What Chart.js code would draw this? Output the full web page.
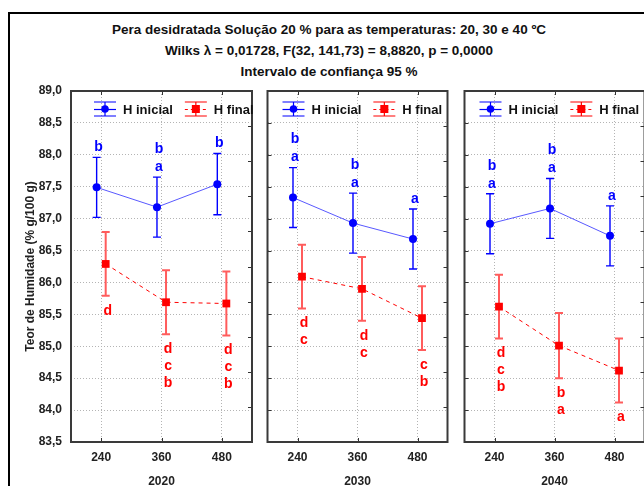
<!DOCTYPE html>
<html><head><meta charset="utf-8">
<script src="https://cdn.jsdelivr.net/npm/chart.js@4.4.0/dist/chart.umd.min.js"></script>
<style>
html,body{margin:0;padding:0;background:#fff;width:644px;height:486px;overflow:hidden;position:relative;}
#frame{position:absolute;left:8px;top:12px;width:700px;height:600px;border-left:2px solid #000;border-top:2px solid #000;}
.t{position:absolute;left:0;width:658px;text-align:center;font:bold 13.5px 'Liberation Sans',Arial,sans-serif;color:#111;white-space:nowrap;line-height:16px;}
canvas{position:absolute;top:0;}
</style></head><body>
<div id="frame"></div>
<div class="t" style="top:22px">Pera desidratada Solução 20 % para as temperaturas: 20, 30 e 40 ºC</div>
<div class="t" style="top:43px">Wilks λ = 0,01728, F(32, 141,73) = 8,8820, p = 0,0000</div>
<div class="t" style="top:64px">Intervalo de confiança 95 %</div>
<canvas id="c0" style="left:0px"></canvas>
<canvas id="c1" style="left:262px"></canvas>
<canvas id="c2" style="left:459px"></canvas>
<script>
// ---- data ----
const years = ['2020', '2030', '2040'];
const times = ['240', '360', '480'];
const seriesNames = ['H inicial', 'H final'];
const yTitle = 'Teor de Humidade (% g/100 g)';

const inicial2020 = [87.49, 87.18, 87.54];
const inicial2030 = [87.33, 86.93, 86.68];
const inicial2040 = [86.92, 87.16, 86.73];
const final2020 = [86.29, 85.69, 85.67];
const final2030 = [86.09, 85.90, 85.44];
const final2040 = [85.62, 85.01, 84.62];

const ciInicial2020 = [0.47, 0.47, 0.48];
const ciInicial2030 = [0.47, 0.47, 0.47];
const ciInicial2040 = [0.47, 0.47, 0.47];
const ciFinal2020 = [0.50, 0.50, 0.50];
const ciFinal2030 = [0.50, 0.50, 0.50];
const ciFinal2040 = [0.50, 0.51, 0.50];

// letters listed top to bottom
const lettersInicial2020 = ['b', 'ba', 'b'];
const lettersInicial2030 = ['ba', 'ba', 'a'];
const lettersInicial2040 = ['ba', 'ba', 'a'];
const lettersFinal2020 = ['d', 'dcb', 'dcb'];
const lettersFinal2030 = ['dc', 'dc', 'cb'];
const lettersFinal2040 = ['dcb', 'ba', 'a'];

const yMin = 83.5, yMax = 89.0, yStep = 0.5;

// ---- styling ----
const FONT = "'Liberation Sans', Arial, sans-serif";
Chart.defaults.font.family = FONT;
const BLUE = '#0000ff', RED = '#ff0000';
const panels = [
  {inicial: inicial2020, fin: final2020, ciI: ciInicial2020, ciF: ciFinal2020, lI: lettersInicial2020, lF: lettersFinal2020},
  {inicial: inicial2030, fin: final2030, ciI: ciInicial2030, ciF: ciFinal2030, lI: lettersInicial2030, lF: lettersFinal2030},
  {inicial: inicial2040, fin: final2040, ciI: ciInicial2040, ciF: ciFinal2040, lI: lettersInicial2040, lF: lettersFinal2040}
];
const canvasW = [264, 191, 191];
const padL = [0, 4, 4], padR = [12, 4, 4];
const legendOffset = [23, 15, 15];
const xShift = 0.075;

const panelPlugin = {
  id: 'panelPlugin',
  beforeDatasetsDraw(chart) {
    const ctx = chart.ctx, xs = chart.scales.x, ys = chart.scales.y;
    chart.data.datasets.forEach(ds => {
      ctx.save();
      ctx.strokeStyle = ds.errColor; ctx.lineWidth = ds.errWidth;
      ds.data.forEach((p, i) => {
        const x = xs.getPixelForValue(p.x);
        const y1 = ys.getPixelForValue(p.y + ds.ci[i]);
        const y2 = ys.getPixelForValue(p.y - ds.ci[i]);
        ctx.beginPath();
        ctx.moveTo(x, y1); ctx.lineTo(x, y2);
        ctx.moveTo(x - 4, y1); ctx.lineTo(x + 4, y1);
        ctx.moveTo(x - 4, y2); ctx.lineTo(x + 4, y2);
        ctx.stroke();
      });
      ctx.restore();
    });
  },
  afterDraw(chart) {
    const ctx = chart.ctx, a = chart.chartArea, xs = chart.scales.x, ys = chart.scales.y, y2 = chart.scales.y2;
    const p = chart.options.plugins.panelPlugin.index;
    ctx.save();
    // inward ticks
    ctx.strokeStyle = '#333'; ctx.lineWidth = 1;
    ctx.beginPath();
    for (let k = 1; k < 10; k++) {
      const y = Math.round(y2.getPixelForValue(k)) + 0.5;
      ctx.moveTo(a.right - 4, y); ctx.lineTo(a.right, y);
    }
    if (p > 0) {
      ys.ticks.forEach(t => {
        const y = Math.round(ys.getPixelForValue(t.value)) + 0.5;
        ctx.moveTo(a.left, y); ctx.lineTo(a.left + 4, y);
      });
    }
    xs.ticks.forEach(t => {
      const x = Math.round(xs.getPixelForValue(t.value)) + 0.5;
      ctx.moveTo(x, a.top); ctx.lineTo(x, a.top + 4);
      ctx.moveTo(x, a.bottom); ctx.lineTo(x, a.bottom - 4);
    });
    ctx.stroke();
    // frame
    ctx.strokeStyle = '#3a3a3a'; ctx.lineWidth = 2;
    ctx.strokeRect(a.left, a.top, a.right - a.left, a.bottom - a.top);
    // letters
    ctx.font = 'bold 14px ' + FONT;
    ctx.textAlign = 'center'; ctx.textBaseline = 'middle';
    chart.data.datasets.forEach(ds => {
      ctx.fillStyle = ds.errColor === BLUE ? BLUE : RED;
      ds.data.forEach((pt, i) => {
        const x = xs.getPixelForValue(pt.x) + 2;
        const letters = ds.letters[i].split('');
        if (ds.lettersAbove) {
          const top = ys.getPixelForValue(pt.y + ds.ci[i]);
          letters.forEach((L, j) => ctx.fillText(L, x, top - 10 - (letters.length - 1 - j) * 18));
        } else {
          const bot = ys.getPixelForValue(pt.y - ds.ci[i]);
          letters.forEach((L, j) => ctx.fillText(L, x, bot + 15 + j * 17));
        }
      });
    });
    // legend
    const ly = a.top + 18;
    let lx = a.left + legendOffset[p];
    chart.data.datasets.forEach((ds, di) => {
      const col = di === 0 ? BLUE : RED;
      ctx.strokeStyle = col; ctx.fillStyle = col;
      ctx.lineWidth = 1.2;
      ctx.setLineDash([]);
      ctx.beginPath();
      ctx.moveTo(lx, ly - 7); ctx.lineTo(lx + 22, ly - 7);
      ctx.moveTo(lx, ly + 7); ctx.lineTo(lx + 22, ly + 7);
      ctx.moveTo(lx + 11, ly - 7); ctx.lineTo(lx + 11, ly + 7);
      ctx.stroke();
      ctx.beginPath();
      if (di === 1) ctx.setLineDash([3, 3]);
      ctx.moveTo(lx, ly + 0.5); ctx.lineTo(lx + 22, ly + 0.5);
      ctx.stroke();
      ctx.setLineDash([]);
      if (di === 0) { ctx.beginPath(); ctx.arc(lx + 11, ly, 3.8, 0, Math.PI * 2); ctx.fill(); }
      else { ctx.fillRect(lx + 11 - 4, ly - 4, 8, 8); }
      ctx.fillStyle = '#111';
      ctx.font = 'bold 13px ' + FONT;
      ctx.textAlign = 'left';
      ctx.fillText(seriesNames[di], lx + 29, ly + 1);
      lx += 29 + ctx.measureText(seriesNames[di]).width + 12;
    });
    ctx.restore();
  }
};

panels.forEach((pd, p) => {
  const cv = document.getElementById('c' + p);
  cv.width = canvasW[p]; cv.height = 490;
  cv.style.width = canvasW[p] + 'px'; cv.style.height = '490px';
  new Chart(cv, {
    type: 'line',
    data: {
      datasets: [
        {
          label: seriesNames[0],
          data: pd.inicial.map((v, i) => ({x: i - xShift, y: v})),
          ci: pd.ciI, letters: pd.lI, lettersAbove: true,
          errColor: BLUE, errWidth: 1.4,
          borderColor: 'rgba(70,70,255,0.9)', borderWidth: 1,
          pointStyle: 'circle', pointRadius: 4, pointBackgroundColor: BLUE, pointBorderColor: BLUE, pointBorderWidth: 0
        },
        {
          label: seriesNames[1],
          data: pd.fin.map((v, i) => ({x: i + xShift, y: v})),
          ci: pd.ciF, letters: pd.lF, lettersAbove: false,
          errColor: '#ff5c5c', errWidth: 2,
          borderColor: RED, borderWidth: 1, borderDash: [4, 4],
          pointStyle: 'rect', pointRadius: 5.5, pointBackgroundColor: RED, pointBorderColor: RED, pointBorderWidth: 0
        }
      ]
    },
    options: {
      responsive: false, animation: false, devicePixelRatio: 1,
      layout: {padding: {top: 91, bottom: 0, left: padL[p], right: padR[p]}},
      plugins: {legend: {display: false}, tooltip: {enabled: false}, panelPlugin: {index: p}},
      elements: {line: {tension: 0}},
      scales: {
        x: {
          type: 'linear', min: -0.5, max: 2.5,
          afterBuildTicks: s => { s.ticks = times.map((_, i) => ({value: i})); },
          afterFit: s => { s.height = 48; },
          ticks: {callback: v => times[v], font: {weight: 'bold', size: 12}, color: '#222', padding: 8, maxRotation: 0, autoSkip: false},
          grid: {color: '#b4b4b4', lineWidth: 1, drawTicks: false},
          border: {display: false, dash: [1, 2]},
          title: {display: true, text: years[p], font: {weight: 'bold', size: 12}, color: '#222', padding: {top: 0, bottom: 1}}
        },
        y: {
          min: yMin, max: yMax,
          afterFit: s => { s.width = p === 0 ? 71 : 0; },
          ticks: {display: p === 0, stepSize: yStep, callback: v => v.toFixed(1).replace('.', ','), font: {weight: 'bold', size: 12}, color: '#222', padding: 9},
          grid: {color: '#b4b4b4', lineWidth: 1, drawTicks: false},
          border: {display: false, dash: [1, 2]},
          title: {display: p === 0, text: yTitle, font: {weight: 'bold', size: 12}, color: '#222', padding: {top: 23, bottom: 0}}
        },
        y2: {display: false, min: 0, max: 10}
      }
    },
    plugins: [panelPlugin]
  });
});
</script>
</body></html>
